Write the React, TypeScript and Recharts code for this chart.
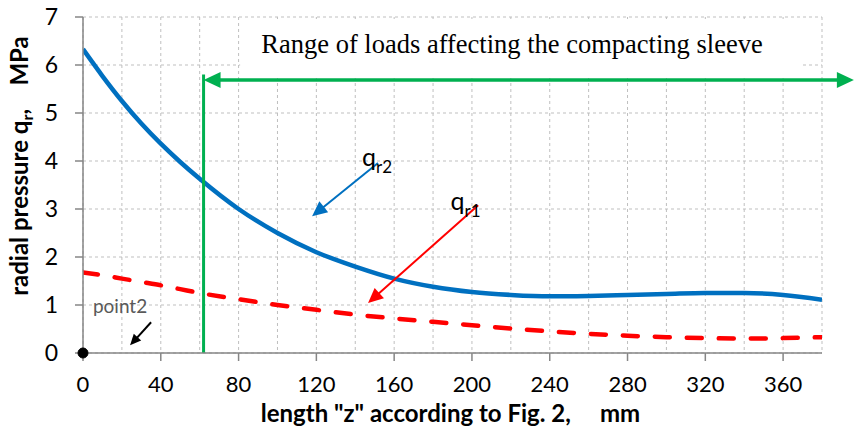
import React from 'react';
import {
  LineChart,
  Line,
  XAxis,
  YAxis,
  CartesianGrid,
  ReferenceLine,
  ReferenceArea,
  ReferenceDot,
  Label,
} from 'recharts';

// length z, mm
const zValues = [0, 10, 20, 30, 40, 50, 60, 80, 100, 120, 140, 160, 180, 200, 220, 240, 260, 280, 300, 320, 340, 360, 380];
// radial pressure q_r2, MPa (solid blue)
const qr2Values = [6.33, 5.77, 5.25, 4.78, 4.36, 3.98, 3.63, 3.0, 2.5, 2.1, 1.8, 1.55, 1.38, 1.27, 1.21, 1.18, 1.19, 1.21, 1.23, 1.25, 1.25, 1.21, 1.11];
// radial pressure q_r1, MPa (dashed red)
const qr1Values = [1.68, 1.62, 1.55, 1.48, 1.41, 1.33, 1.25, 1.12, 1.0, 0.9, 0.8, 0.72, 0.65, 0.58, 0.51, 0.45, 0.4, 0.36, 0.33, 0.31, 0.3, 0.31, 0.33];

const xTicks = [0, 40, 80, 120, 160, 200, 240, 280, 320, 360];
const xGridValues = [0, 20, 40, 60, 80, 100, 120, 140, 160, 180, 200, 220, 240, 260, 280, 300, 320, 340, 360, 380];
const yTicks = [0, 1, 2, 3, 4, 5, 6, 7];

const rangeTitle = 'Range of loads affecting the compacting sleeve';

const data = zValues.map((z, i) => ({ z, qr2: qr2Values[i], qr1: qr1Values[i] }));

const SANS = 'Lato, "Noto Sans", sans-serif';

function arrowShape(color: string, width: number, head: number, half: number, both = false) {
  return (p: any) => {
    const { x1, y1, x2, y2 } = p;
    const dx = x2 - x1;
    const dy = y2 - y1;
    const len = Math.hypot(dx, dy) || 1;
    const ux = dx / len;
    const uy = dy / len;
    const tri = (tx: number, ty: number, ax: number, ay: number) => {
      const bx = tx - ax * head;
      const by = ty - ay * head;
      return `${tx},${ty} ${bx - ay * half},${by + ax * half} ${bx + ay * half},${by - ax * half}`;
    };
    const sx = both ? x1 + ux * head * 0.8 : x1;
    const sy = both ? y1 + uy * head * 0.8 : y1;
    return (
      <g>
        <line x1={sx} y1={sy} x2={x2 - ux * head * 0.8} y2={y2 - uy * head * 0.8} stroke={color} strokeWidth={width} />
        <polygon points={tri(x2, y2, ux, uy)} fill={color} />
        {both && <polygon points={tri(x1, y1, -ux, -uy)} fill={color} />}
      </g>
    );
  };
}

const qLabel = (sub: string) => (p: any) => (
  <text x={p.cx} y={p.cy} fontFamily={SANS} fontSize={25} fill="#000">
    q
    <tspan fontSize={17} dy={7}>{sub}</tspan>
  </text>
);

const XTitle = (props: any) => {
  const { viewBox } = props;
  return (
    <text x={viewBox.x + viewBox.width / 2 - 2} y={422} textAnchor="middle" fontFamily={SANS} fontWeight="bold" fontSize={24} fill="#000" style={{ whiteSpace: 'pre' }}>
      {'length "z" according to Fig. 2,     mm'}
    </text>
  );
};

const YTitle = () => (
  <text transform="translate(28,166) rotate(-90)" textAnchor="middle" fontFamily={SANS} fontWeight="bold" fontSize={24} fill="#000" style={{ whiteSpace: 'pre' }}>
    radial pressure q<tspan fontSize={16} dy={5}>r</tspan>
    <tspan dy={-5}>{',    MPa'}</tspan>
  </text>
);

const NoTick = () => <g />;

export default function App() {
  return (
    <div style={{ position: 'absolute', left: 0, top: 0, background: '#fff' }}>
      <LineChart width={854} height={431} data={data} margin={{ top: 17, right: 32, left: 0, bottom: 0 }}>
        <CartesianGrid xAxisId="grid" stroke="#bfbfbf" strokeDasharray="3 3" />
        <ReferenceArea x1={80.8} x2={369.9} y1={5.73} y2={6.96} fill="#fff" fillOpacity={1} stroke="none" ifOverflow="visible" />
        <XAxis
          dataKey="z"
          type="number"
          domain={[0, 380]}
          ticks={xTicks}
          interval={0}
          height={78}
          tickSize={8}
          tickMargin={15}
          axisLine={{ stroke: '#868686', strokeWidth: 1.5 }}
          tickLine={{ stroke: '#868686', strokeWidth: 1.5 }}
          tick={{ fill: '#000', fontSize: 22, fontFamily: SANS }}
          allowDataOverflow
        >
          <Label content={XTitle} />
        </XAxis>
        <XAxis
          xAxisId="grid"
          dataKey="z"
          type="number"
          domain={[0, 380]}
          ticks={xGridValues}
          interval={0}
          height={0}
          axisLine={false}
          tickLine={false}
          tick={NoTick}
          allowDataOverflow
        />
        <YAxis
          type="number"
          domain={[0, 7]}
          ticks={yTicks}
          interval={0}
          width={83}
          tickSize={8}
          tickMargin={17}
          axisLine={{ stroke: '#868686', strokeWidth: 1.5 }}
          tickLine={{ stroke: '#868686', strokeWidth: 1.5 }}
          tick={{ fill: '#000', fontSize: 23, fontFamily: SANS }}
        >
          <Label content={YTitle} />
        </YAxis>
        <Line dataKey="qr2" type="monotone" stroke="#0070C0" strokeWidth={4.5} dot={false} isAnimationActive={false} />
        <Line dataKey="qr1" type="monotone" stroke="#FF0000" strokeWidth={4.5} strokeDasharray="15 17" strokeLinecap="round" dot={false} isAnimationActive={false} />
        <ReferenceLine segment={[{ x: 62, y: 0 }, { x: 62, y: 5.8 }]} stroke="#00B050" strokeWidth={3} ifOverflow="visible" />
        <ReferenceLine
          segment={[{ x: 62, y: 5.69 }, { x: 396.4, y: 5.69 }]}
          ifOverflow="visible"
          shape={arrowShape('#00B050', 3.5, 17, 8, true)}
        />
        <ReferenceLine segment={[{ x: 151.7, y: 3.96 }, { x: 117.8, y: 2.85 }]} ifOverflow="visible" shape={arrowShape('#0070C0', 2, 15, 7)} />
        <ReferenceLine segment={[{ x: 203.2, y: 3.08 }, { x: 146.6, y: 1.04 }]} ifOverflow="visible" shape={arrowShape('#FF0000', 2, 15, 7)} />
        <ReferenceLine segment={[{ x: 35, y: 0.64 }, { x: 24.2, y: 0.16 }]} ifOverflow="visible" shape={arrowShape('#000', 2, 11, 5)} />
        <ReferenceDot x={143.5} y={3.9} r={0} ifOverflow="visible" shape={qLabel('r2')} />
        <ReferenceDot x={189} y={2.97} r={0} ifOverflow="visible" shape={qLabel('r1')} />
        <ReferenceDot
          x={5.1}
          y={0.83}
          r={0}
          ifOverflow="visible"
          shape={(p: any) => (
            <text x={p.cx} y={p.cy} fontFamily={SANS} fontSize={19} fill="#595959">point2</text>
          )}
        />
        <ReferenceDot
          x={220.6}
          y={6.25}
          r={0}
          ifOverflow="visible"
          shape={(p: any) => (
            <text x={p.cx} y={p.cy} textAnchor="middle" fontFamily='"Liberation Serif", "Times New Roman", serif' fontSize={26.5} fill="#000">
              {rangeTitle}
            </text>
          )}
        />
        <ReferenceDot x={0} y={0} r={5} fill="#000" stroke="#000" ifOverflow="visible" />
      </LineChart>
    </div>
  );
}
